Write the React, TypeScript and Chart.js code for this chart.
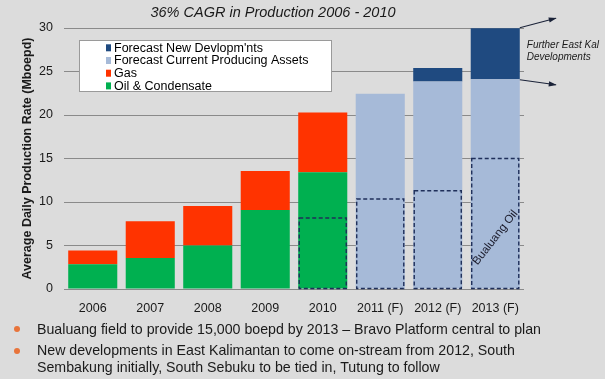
import React, { useEffect, useRef } from 'react';
import { Chart, registerables } from 'chart.js';

Chart.register(...registerables);

const categories = ['2006', '2007', '2008', '2009', '2010', '2011 (F)', '2012 (F)', '2013 (F)'];
const oilCondensate = [2.85, 3.57, 5.0, 9.07, 13.41, null, null, null];
const gas = [1.57, 4.23, 4.53, 4.49, 6.89, null, null, null];
const forecastCurrent = [null, null, null, null, null, 22.45, 23.84, 24.1];
const forecastNew = [null, null, null, null, null, null, 1.56, 5.87];
const bualuangOil = [null, null, null, null, 8.16, 10.35, 11.3, 15.0];

const seriesLabels = ['Oil & Condensate', 'Gas', 'Forecast Current Producing Assets', "Forecast New Devlopm'nts"];
const seriesColors = ['#00b050', '#ff3300', '#a6bad8', '#1f4a80'];

const chartTitle = '36% CAGR in Production 2006 - 2010';
const yAxisTitle = 'Average Daily Production Rate (Mboepd)';
const furtherNote = ['Further East Kal', 'Developments'];
const bualuangLabel = 'Bualuang Oil';
const bullets = [
  ['Bualuang field to provide 15,000 boepd by 2013 \u2013 Bravo Platform central to plan'],
  ['New developments in East Kalimantan to come on-stream from 2012, South', 'Sembakung initially, South Sebuku to be tied in, Tutung to follow'],
];

const FONT = '"Liberation Sans", Arial, sans-serif';
const BG = '#dcdcdc';

function barGeom(chart: any, index: number) {
  for (let d = 0; d < chart.data.datasets.length; d++) {
    const v = chart.data.datasets[d].data[index];
    if (v === null || v === undefined) continue;
    const el = chart.getDatasetMeta(d).data[index];
    if (el) {
      const p = el.getProps(['x', 'width'], true);
      return { x: p.x, w: p.width };
    }
  }
  return null;
}

function arrow(ctx: CanvasRenderingContext2D, x1: number, y1: number, x2: number, y2: number) {
  ctx.beginPath();
  ctx.moveTo(x1, y1);
  ctx.lineTo(x2, y2);
  ctx.stroke();
  const a = Math.atan2(y2 - y1, x2 - x1);
  const L = 7, W = 2.6;
  ctx.beginPath();
  ctx.moveTo(x2 + Math.cos(a), y2 + Math.sin(a));
  ctx.lineTo(x2 - L * Math.cos(a) + W * Math.sin(a), y2 - L * Math.sin(a) - W * Math.cos(a));
  ctx.lineTo(x2 - L * Math.cos(a) - W * Math.sin(a), y2 - L * Math.sin(a) + W * Math.cos(a));
  ctx.closePath();
  ctx.fill();
}

const overlayPlugin = {
  id: 'overlay',
  beforeDatasetsDraw(chart: any) {
    const ctx: CanvasRenderingContext2D = chart.ctx;
    ctx.save();
    // legend box
    ctx.fillStyle = '#ffffff';
    ctx.fillRect(79.5, 40.5, 252, 51);
    ctx.strokeStyle = '#9a9a9a';
    ctx.lineWidth = 1;
    ctx.strokeRect(79.5, 40.5, 252, 51);
    const ds = chart.data.datasets.slice().reverse();
    ds.forEach((d: any, k: number) => {
      const cy = 47.8 + k * 12.7;
      ctx.fillStyle = d.backgroundColor;
      ctx.fillRect(106, cy - 3.5, 5, 7);
      ctx.fillStyle = '#000';
      ctx.font = `12.5px ${FONT}`;
      ctx.textBaseline = 'middle';
      ctx.textAlign = 'left';
      ctx.fillText(d.label, 114, cy + 0.5);
    });
    ctx.restore();
  },
  afterDatasetsDraw(chart: any) {
    const ctx: CanvasRenderingContext2D = chart.ctx;
    const ys = chart.scales.y;
    ctx.save();
    // dashed Bualuang boxes
    ctx.strokeStyle = '#1f2f5a';
    ctx.lineWidth = 1.4;
    ctx.setLineDash([4, 2.5]);
    bualuangOil.forEach((v, i) => {
      if (v === null) return;
      const g = barGeom(chart, i);
      if (!g) return;
      const top = ys.getPixelForValue(v);
      const bot = ys.getPixelForValue(0);
      ctx.strokeRect(g.x - g.w / 2 + 1, top, g.w - 2, bot - top - 0.5);
    });
    ctx.setLineDash([]);

    // Bualuang Oil rotated label
    const g7 = barGeom(chart, 7);
    if (g7) {
      ctx.save();
      ctx.translate(g7.x, ys.getPixelForValue(5.9));
      ctx.rotate(-52 * Math.PI / 180);
      ctx.fillStyle = '#1a1a2a';
      ctx.font = `11.5px ${FONT}`;
      ctx.textAlign = 'center';
      ctx.textBaseline = 'middle';
      ctx.fillText(bualuangLabel, 0, 0);
      ctx.restore();

      // arrows
      const xr = g7.x + g7.w / 2;
      const topV = (forecastCurrent[7] as number) + (forecastNew[7] as number);
      const midV = forecastCurrent[7] as number;
      ctx.strokeStyle = '#1a2238';
      ctx.fillStyle = '#1a2238';
      ctx.lineWidth = 1.1;
      arrow(ctx, xr, ys.getPixelForValue(topV) - 0.5, xr + 36, ys.getPixelForValue(topV) - 10);
      arrow(ctx, xr, ys.getPixelForValue(midV) + 0.5, xr + 36, ys.getPixelForValue(midV) + 5.5);

      ctx.fillStyle = '#1a1a1a';
      ctx.font = `italic 10px ${FONT}`;
      ctx.textAlign = 'left';
      ctx.textBaseline = 'middle';
      ctx.fillText(furtherNote[0], xr + 7, 45);
      ctx.fillText(furtherNote[1], xr + 7, 57.5);
    }

    // title
    ctx.fillStyle = '#1a1a1a';
    ctx.font = `italic 14.5px ${FONT}`;
    ctx.textAlign = 'center';
    ctx.textBaseline = 'middle';
    ctx.fillText(chartTitle, 273, 13);
    ctx.restore();
  },
};

export default function App() {
  const ref = useRef<HTMLCanvasElement | null>(null);

  useEffect(() => {
    document.body.style.margin = '0';
    const canvas = ref.current;
    if (!canvas) return;
    const datasets = [oilCondensate, gas, forecastCurrent, forecastNew].map((data, i) => ({
      label: seriesLabels[i],
      data,
      backgroundColor: seriesColors[i],
      borderWidth: 0,
      stack: 's',
    }));
    const chart = new Chart(canvas, {
      type: 'bar',
      data: { labels: categories, datasets: datasets as any },
      plugins: [overlayPlugin as any],
      options: {
        responsive: false,
        animation: false,
        devicePixelRatio: 1,
        layout: { padding: { left: 0, top: 28, right: 81, bottom: 50 } },
        datasets: { bar: { categoryPercentage: 1, barPercentage: 0.853 } },
        plugins: {
          legend: { display: false },
          title: { display: false },
          tooltip: { enabled: false },
        },
        scales: {
          x: {
            stacked: true,
            grid: { display: false, drawTicks: false },
            border: { display: false },
            ticks: { color: '#1a1a1a', font: { family: FONT, size: 12.5 }, padding: 12, maxRotation: 0, autoSkip: false },
            afterFit: (s: any) => { s.height = 40; },
          },
          y: {
            stacked: true,
            min: 0,
            max: 30,
            grid: { color: '#8a8a8a', lineWidth: 1, drawTicks: false },
            border: { display: false },
            ticks: { stepSize: 5, color: '#1a1a1a', font: { family: FONT, size: 12.5 }, padding: 11 },
            title: {
              display: true,
              text: yAxisTitle,
              color: '#1a1a1a',
              font: { family: FONT, size: 12.5, weight: 'bold' },
              padding: { top: 20, bottom: 0 },
            },
            afterFit: (s: any) => { s.width = 64; },
          },
        },
      },
    });
    return () => chart.destroy();
  }, []);

  const lineStyle: React.CSSProperties = {
    position: 'absolute',
    left: 37,
    whiteSpace: 'nowrap',
    fontFamily: FONT,
    fontSize: 14.2,
    lineHeight: '17px',
    color: '#1a1a1a',
  };
  const dot: React.CSSProperties = {
    position: 'absolute',
    left: 14,
    width: 6,
    height: 6,
    borderRadius: 3,
    background: '#e8743b',
  };

  return (
    <div style={{ position: 'fixed', left: 0, top: 0, width: 605, height: 379, background: BG, overflow: 'hidden' }}>
      <canvas ref={ref} width={605} height={379} style={{ position: 'absolute', left: 0, top: 0, width: 605, height: 379 }} />
      <div style={{ ...dot, top: 326 }} />
      <div style={{ ...lineStyle, top: 320.5 }}>{bullets[0][0]}</div>
      <div style={{ ...dot, top: 348 }} />
      <div style={{ ...lineStyle, top: 342 }}>{bullets[1][0]}</div>
      <div style={{ ...lineStyle, top: 359 }}>{bullets[1][1]}</div>
    </div>
  );
}
